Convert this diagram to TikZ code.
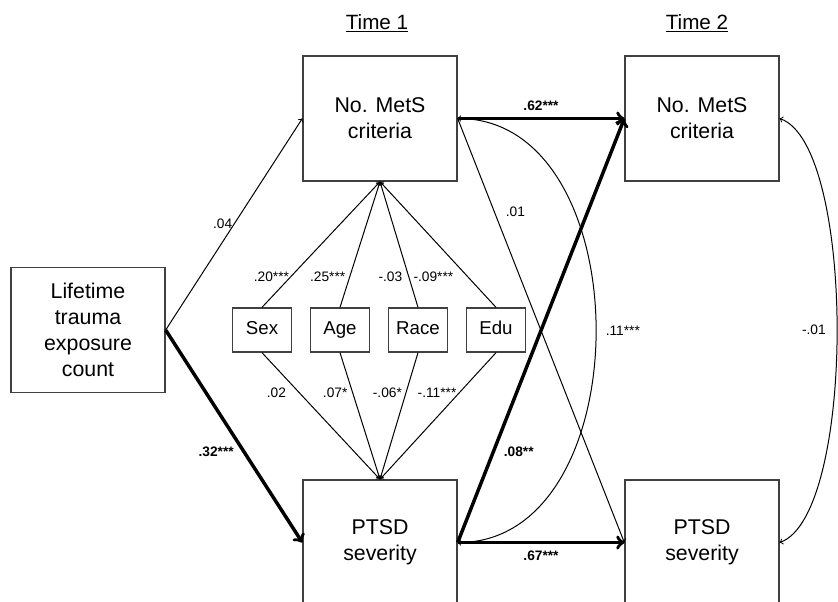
\documentclass[tikz,border=0pt]{standalone}
\usepackage{fontspec}
\setmainfont{Liberation Sans}
\usepackage{tikz}
\usetikzlibrary{arrows}
\tikzstyle{bigbox} = [rectangle, minimum width=115.5pt, minimum height=93.75pt, align=center, draw=black!75, line width=1pt, font=\fontsize{16}{19.5}\selectfont]
\tikzstyle{covar} = [rectangle, minimum width=44.25pt, minimum height=33pt, text height=10pt, text depth=3pt, text centered, draw=black!75, line width=1pt, font=\fontsize{14}{16}\selectfont]
\tikzstyle{timelabel} = [font=\fontsize{15.5}{18}\selectfont]
\tikzstyle{coef} = [inner sep=1pt, font=\fontsize{10.3}{12}\selectfont]
\tikzstyle{boldcoef} = [inner sep=1pt, font=\fontsize{10.3}{12}\selectfont\bfseries]
\tikzstyle{lightarrow} = [->, >=to, line width=0.75pt]
\tikzstyle{heavyarrow} = [->, >=to, line width=2.6pt]
\tikzstyle{corr} = [<->, >=to, line width=0.75pt]

\begin{document}
\begin{tikzpicture}[x=0.75pt, y=-0.75pt, node distance=58.5pt]
    \useasboundingbox (0,0) rectangle (838,601);
    \clip (0,0) rectangle (838,601);
    % Nodes
    \node (time1) [timelabel] at (377,23) {\underline{Time 1}};
    \node (time2) [timelabel] at (697,23) {\underline{Time 2}};
    \node (life) [bigbox] at (88,330) {Lifetime\\trauma\\exposure\\count};
    \node (met1) [bigbox] at (380,118.5) {No. MetS\\criteria};
    \node (met2) [bigbox] at (702,118.5) {No. MetS\\criteria};
    \node (ptsd1) [bigbox] at (380,542.5) {PTSD\\severity};
    \node (ptsd2) [bigbox] at (702,542.5) {PTSD\\severity};
    \node (sex) [covar] at (262,330) {Sex};
    \node (age) [covar, right of=sex] {Age};
    \node (race) [covar, right of=age] {Race};
    \node (edu) [covar, right of=race] {Edu};
    % Arrows
    \draw [lightarrow] (life.east) -- node[coef, pos=0.5, left=0pt] {.04} (met1.west);
    \draw [heavyarrow] (life.east) -- node[boldcoef, pos=0.574, left=5.5pt] {.32***} (ptsd1.west);
    \draw [lightarrow] (sex.north) -- node[coef, pos=0.244, left=0pt] {.20***} (met1.south);
    \draw [lightarrow] (age.north) -- node[coef, pos=0.244, left=2pt] {.25***} (met1.south);
    \draw [lightarrow] (race.north) -- node[coef, pos=0.244, left=3.5pt] {-.03} (met1.south);
    \draw [lightarrow] (edu.north) -- node[coef, pos=0.244, left=9.5pt] {-.09***} (met1.south);
    \draw [lightarrow] (sex.south) -- node[coef, pos=0.32, left=9pt] {.02} (ptsd1.north);
    \draw [lightarrow] (age.south) -- node[coef, pos=0.32, left=2.7pt] {.07*} (ptsd1.north);
    \draw [lightarrow] (race.south) -- node[coef, pos=0.32, left=1.6pt] {-.06*} (ptsd1.north);
    \draw [lightarrow] (edu.south) -- node[coef, pos=0.32, left=0.5pt] {-.11***} (ptsd1.north);
    \draw [heavyarrow] (met1.east) -- node[boldcoef, midway, above=3.3pt] {.62***} (met2.west);
    \draw [heavyarrow] (ptsd1.east) -- node[boldcoef, midway, below=4pt] {.67***} (ptsd2.west);
    \draw [lightarrow] (met1.east) -- node[coef, pos=0.22, right=7.3pt] {.01} (ptsd2.west);
    \draw [heavyarrow] (ptsd1.east) -- node[boldcoef, pos=0.213, right=5.7pt] {.08**} (met2.west);
    \draw [corr] (met1.east) .. controls (642,118.5) and (642,542.5) .. (ptsd1.east) node[coef, pos=0.5, right=6pt] {.11***};
    \draw [corr] (met2.east) .. controls (856,145) and (856,515) .. (ptsd2.east) node[coef, pos=0.5, left=7pt] {-.01};
\end{tikzpicture}
\end{document}
